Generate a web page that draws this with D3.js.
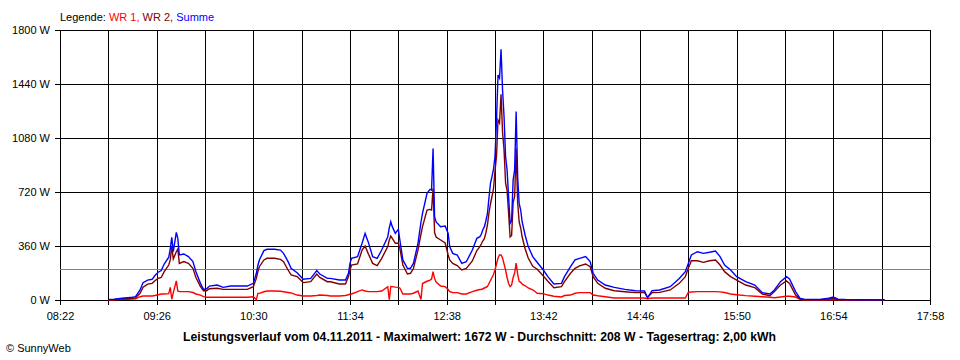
<!DOCTYPE html>
<html><head><meta charset="utf-8">
<script src="https://cdn.jsdelivr.net/npm/d3@7"></script>
<style>
body{margin:0;background:#fff;}
svg{display:block;font-family:"Liberation Sans",Arial,sans-serif;}
</style>
</head><body>
<svg id="chart" width="960" height="360"></svg>
<script>
// ---- data ----
const times = ["08:54","08:58","09:03","09:07","09:10","09:12","09:15","09:17","09:20","09:23","09:25","09:27","09:29","09:31","09:34","09:35","09:36","09:37","09:39","09:40","09:41","09:44","09:47","09:50","09:52","09:55","09:57","09:59","10:01","10:06","10:10","10:15","10:19","10:26","10:30","10:32","10:33","10:34","10:37","10:39","10:44","10:48","10:50","10:53","10:55","10:59","11:03","11:08","11:12","11:14","11:19","11:21","11:27","11:31","11:33","11:34","11:35","11:39","11:42","11:44","11:46","11:49","11:52","11:55","11:59","12:00","12:01","12:02","12:04","12:06","12:07","12:09","12:12","12:14","12:16","12:19","12:21","12:22","12:25","12:27","12:28","12:29","12:30","12:31","12:34","12:37","12:39","12:40","12:42","12:45","12:48","12:51","12:55","12:58","13:00","13:01","13:02","13:03","13:04","13:05","13:06","13:07","13:08","13:09","13:10","13:11","13:12","13:13","13:14","13:15","13:16","13:17","13:18","13:19","13:20","13:21","13:22","13:23","13:24","13:25","13:26","13:27","13:28","13:30","13:32","13:35","13:38","13:42","13:45","13:49","13:54","13:56","14:00","14:03","14:06","14:10","14:13","14:15","14:18","14:23","14:29","14:36","14:43","14:49","14:51","14:54","14:59","15:06","15:12","15:16","15:18","15:20","15:24","15:28","15:32","15:36","15:39","15:42","15:46","15:50","15:56","16:02","16:07","16:12","16:15","16:19","16:23","16:25","16:29","16:32","16:35","16:45","16:51","16:54","16:57","17:02","17:12","17:28"];
const wr1 = [0,2,4,5,6,8,22,27,27,27,30,35,40,40,42,84,5,49,127,60,56,56,56,50,40,33,22,18,18,18,18,18,18,18,22,3,44,44,55,60,60,58,55,50,47,33,27,27,30,33,30,27,27,30,35,40,40,56,67,60,56,56,56,60,89,3,90,89,86,84,80,40,40,40,45,60,3,110,125,133,140,189,144,120,93,89,70,56,50,49,40,40,56,65,70,70,75,80,85,90,110,130,150,170,200,240,280,300,300,280,240,200,150,110,90,100,150,180,246,172,124,118,105,95,80,68,45,42,33,25,20,30,33,45,49,49,49,33,28,22,13,13,13,13,8,13,13,13,13,13,51,53,56,56,56,56,54,50,40,35,29,25,22,18,15,20,25,25,20,5,0,0,2,3,1,0,0,0];
const wr2 = [2,4,8,10,12,14,45,85,106,111,130,144,150,189,233,267,356,273,322,340,244,256,244,211,150,89,62,62,75,78,71,71,71,71,89,144,190,222,267,278,278,271,256,200,167,156,116,122,173,151,122,122,107,107,156,200,233,240,333,360,311,244,229,278,356,400,427,411,378,378,344,233,173,178,210,333,440,489,600,604,600,744,450,420,400,380,300,267,244,230,200,210,260,330,356,375,395,410,450,500,580,640,690,740,860,960,1200,1180,1372,1120,1000,780,730,580,420,430,650,690,1010,650,520,480,420,340,280,225,205,160,125,82,89,122,178,211,227,240,222,156,111,78,62,55,49,49,18,49,51,67,111,156,211,262,262,251,262,267,233,189,156,133,100,82,40,29,56,100,127,110,33,7,2,1,8,11,3,1,0,0];
const summe = [3,6,12,16,18,22,67,115,133,138,165,185,196,240,285,340,418,322,451,411,300,307,289,256,189,111,71,75,93,100,84,93,93,93,111,178,230,267,329,338,338,333,311,256,211,182,138,144,196,173,144,144,133,133,178,244,278,289,378,444,389,289,278,333,422,480,522,489,444,471,400,267,211,211,244,378,520,578,711,738,733,1010,555,520,489,493,444,356,311,300,244,255,333,411,422,440,470,489,530,578,680,778,822,870,956,1200,1500,1480,1672,1400,1222,956,867,689,511,530,800,867,1256,822,644,600,520,430,356,289,250,200,156,107,111,156,222,267,278,289,256,178,133,100,84,71,62,60,15,62,67,89,144,189,244,300,322,311,318,327,289,233,200,156,122,100,49,40,67,122,156,140,56,11,4,3,12,20,5,3,2,1];
const xTickLabels = ["08:22","09:26","10:30","11:34","12:38","13:42","14:46","15:50","16:54","17:58"];
const yTickValues = [0,360,720,1080,1440,1800];
const average = 208;
const legendItems = [["WR 1, ","#ff0000"],["WR 2, ","#800000"],["Summe","#0000ff"]];
const titleText = "Leistungsverlauf vom 04.11.2011 - Maximalwert: 1672 W - Durchschnitt: 208 W - Tagesertrag: 2,00 kWh";

// ---- drawing ----
const toMin = s => { const [h,m] = s.split(":").map(Number); return h*60+m; };
const svg = d3.select("#chart");
const L = 60, R = 930, T = 30, B = 300;
const t0 = toMin(xTickLabels[0]), t1 = toMin(xTickLabels[xTickLabels.length-1]);
const x = d3.scaleLinear().domain([t0, t1]).range([L, R]);
const y = d3.scaleLinear().domain([0, 1800]).range([B, T]);

svg.append("rect").attr("width",960).attr("height",360).attr("fill","#fff");

// y axis + horizontal grid
const gy = svg.append("g").attr("transform",`translate(${L},0)`)
  .call(d3.axisLeft(y).tickValues(yTickValues).tickFormat(d => d + " W").tickSizeOuter(0).tickSizeInner(5).tickPadding(5));
gy.select(".domain").remove();
gy.selectAll(".tick line").attr("x1",-5).attr("x2",R-L).attr("stroke","#000").attr("shape-rendering","crispEdges");
gy.selectAll(".tick text").attr("font-size","11px").attr("fill","#000").attr("font-family","Liberation Sans, Arial, sans-serif").attr("x",-10);

// x axis + vertical grid (every 32 min, labels every 64 min)
const gridMinutes = d3.range(t0, t1 + 1, 32);
const labelMap = new Map(xTickLabels.map(s => [toMin(s), s]));
const gx = svg.append("g").attr("transform",`translate(0,${B})`)
  .call(d3.axisBottom(x).tickValues(gridMinutes).tickFormat(d => labelMap.get(d) || "").tickSizeOuter(0).tickSizeInner(5).tickPadding(7));
gx.select(".domain").remove();
gx.selectAll(".tick line").attr("y1",-(B-T)).attr("y2",5).attr("stroke","#000").attr("shape-rendering","crispEdges");
gx.selectAll(".tick text").attr("font-size","11px").attr("fill","#000").attr("font-family","Liberation Sans, Arial, sans-serif");

// average line
svg.append("line").attr("x1",L).attr("x2",R).attr("y1",Math.round(y(average))+0.5).attr("y2",Math.round(y(average))+0.5)
  .attr("stroke","#808080").attr("stroke-width",1.2);

// series
const series = [[wr1,"#ff0000"],[wr2,"#800000"],[summe,"#0000ff"]];
const line = d3.line().x((d,i) => x(toMin(times[i]))).y(d => y(d));
series.forEach(([vals, col]) => {
  svg.append("path").datum(vals).attr("d", line).attr("fill","none")
    .attr("stroke", col).attr("stroke-width",1.4).attr("stroke-linejoin","miter");
});

// legend
const lg = svg.append("text").attr("x",L).attr("y",21).attr("font-size","11px");
lg.append("tspan").text("Legende: ").attr("fill","#000");
legendItems.forEach(([t,c]) => lg.append("tspan").text(t).attr("fill",c));

// title
svg.append("text").attr("x",479.5).attr("y",341).attr("text-anchor","middle")
  .attr("font-size","13px").attr("font-weight","bold").attr("fill","#000")
  .attr("textLength",593).attr("lengthAdjust","spacingAndGlyphs").text(titleText);

// copyright
svg.append("text").attr("x",6).attr("y",352).attr("font-size","11px").attr("fill","#000").text("© SunnyWeb");
</script>
</body></html>
